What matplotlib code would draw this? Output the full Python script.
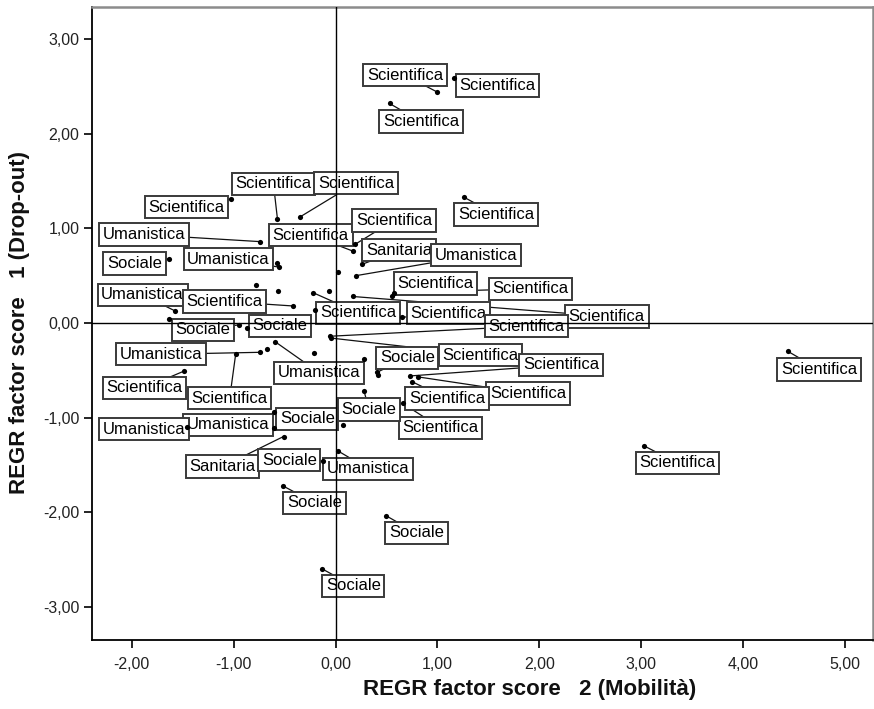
import matplotlib
matplotlib.use("Agg")
import matplotlib.pyplot as plt
from matplotlib.ticker import FuncFormatter

# ── DATA ────────────────────────────────────────────────────
# REGR factor score 2 (Mobilità) / 1 (Drop-out), area of each course
mobilita = [1.16, 1.00, 0.53, 1.26, -1.03, -0.57, -0.35, -0.74, -1.63, -0.55,
            -0.57, 0.17, 0.19, 0.26, 0.20, 0.02, -0.78, -0.56, -0.22, -0.20,
            -0.06, 0.17, 0.55, 0.57, 0.65, -0.05, -0.04, -0.95, -0.87, -1.58,
            -1.63, -0.42, -0.74, -0.67, -0.98, -1.49, -0.59, -0.21, 0.28, 0.41,
            0.42, 0.73, 0.81, 0.75, 0.66, 0.28, 0.07, -0.60, -0.60, -1.46,
            -0.51, -0.12, 0.02, -0.52, 0.50, -0.13, 4.44, 3.03]
dropout = [2.59, 2.44, 2.32, 1.33, 1.31, 1.10, 1.12, 0.86, 0.68, 0.59,
           0.63, 0.76, 0.83, 0.62, 0.50, 0.54, 0.40, 0.34, 0.32, 0.14,
           0.34, 0.28, 0.28, 0.32, 0.06, -0.14, -0.16, -0.02, -0.05, 0.13,
           0.04, 0.18, -0.31, -0.28, -0.33, -0.51, -0.20, -0.32, -0.38, -0.52,
           -0.55, -0.56, -0.57, -0.62, -0.85, -0.72, -1.08, -0.94, -1.11, -1.10,
           -1.20, -1.46, -1.35, -1.72, -2.04, -2.60, -0.30, -1.30]
area = ["Scientifica", "Scientifica", "Scientifica", "Scientifica", "Scientifica",
        "Scientifica", "Scientifica", "Umanistica", "Sociale", "Umanistica",
        "", "Scientifica", "Scientifica", "Sanitaria", "Umanistica",
        "", "", "", "Scientifica", "",
        "", "Scientifica", "Scientifica", "Scientifica", "Scientifica",
        "Scientifica", "Scientifica", "Sociale", "Sociale", "Umanistica",
        "", "Scientifica", "Umanistica", "", "Scientifica",
        "Scientifica", "Umanistica", "", "", "Sociale",
        "", "Scientifica", "Scientifica", "Scientifica", "Scientifica",
        "Sociale", "", "Sociale", "Umanistica", "Umanistica",
        "Sanitaria", "Sociale", "Umanistica", "Sociale", "Sociale",
        "Sociale", "Scientifica", "Scientifica"]

# ── LAYOUT: label offsets from each point (pixels, up = +) ──
label_dx = [44, -32.5, 31.5, 32, -44, -4, 56, -116, -35, -51,
            0, -42, 39, 37, 120, 0, 0, 0, 45, 0,
            0, 254, 44, 137, 47, 196, 149, -36, 33, -32,
            0, -68, -99, 0, -6, -39, 44, 0, 0, 30,
            0, 151, 110, 35, 38, 5, 0, 33, -46, -43,
            -61, -34, 30.5, 32, 30, 31, 31, 33]
label_dy = [-7.5, 17, -18, -17.5, -8, 35, 34, 7, -5, 8,
            0, 16, 24, 14, 20.5, 0, 0, 0, -20, 0,
            0, -20, 13, 4, 4, 10, -17, -5, 2, 16,
            0, 4.5, -2, 0, -44, -16.5, -31, 0, 0, 14.5,
            0, 11, -16.5, -17, -24.5, -18.5, 0, -7, 3, -2,
            -30, 1, -18, -17, -17, -17, -18, -17]

X_TICKS = [-2, -1, 0, 1, 2, 3, 4, 5]
Y_TICKS = [-3, -2, -1, 0, 1, 2, 3]

# ── FIGURE ──────────────────────────────────────────────────
plt.rcParams["font.family"] = ["Liberation Sans", "DejaVu Sans"]
fig = plt.figure(figsize=(8.74, 7.09), dpi=100)
W, H = 874, 709
ax = fig.add_axes([92 / W, (H - 640) / H, (873 - 92) / W, (640 - 7) / H])
ax.set_xlim(-2.390, 5.275)
ax.set_ylim(-3.351, 3.340)

comma = FuncFormatter(lambda v, _: f"{v:.2f}".replace(".", ","))
ax.set_xticks(X_TICKS)
ax.set_yticks(Y_TICKS)
ax.xaxis.set_major_formatter(comma)
ax.yaxis.set_major_formatter(comma)
ax.tick_params(direction="out", length=6, width=1.2, labelsize=11.5,
               colors="black", labelcolor="#222222")
ax.tick_params(axis="x", pad=6)
ax.tick_params(axis="y", pad=3)

for side in ("left", "bottom"):
    ax.spines[side].set_linewidth(1.3)
    ax.spines[side].set_color("black")
for side in ("top", "right"):
    ax.spines[side].set_linewidth(1.8)
    ax.spines[side].set_color("#8c8c8c")

# reference lines drawn above the label boxes, like SPSS
ax.axhline(0, color="black", lw=1, zorder=4)
ax.axvline(0, color="black", lw=1, zorder=4)

# ── LABELS + LEADERS ────────────────────────────────────────
to_px = ax.transData
to_data = ax.transData.inverted()
for x, y, lab, dx, dy in zip(mobilita, dropout, area, label_dx, label_dy):
    if not lab:
        continue
    px, py = to_px.transform((x, y))
    lx, ly = to_data.transform((px + dx, py + dy))
    ax.plot([x, lx], [y, ly], color="#111111", lw=0.9, zorder=2)
    ax.text(lx, ly, lab, ha="center", va="center", fontsize=12, zorder=3,
            bbox=dict(boxstyle="square,pad=0.22", facecolor="white",
                      edgecolor="#3a3a3a", linewidth=1.4))

ax.scatter(mobilita, dropout, s=14, color="black", zorder=5, linewidths=0)

# ── AXIS TITLES ─────────────────────────────────────────────
fig.text(530 / W, 1 - 690 / H, "REGR factor score   2 (Mobilità)",
         ha="center", va="center", fontsize=16, fontweight="bold",
         color="#111111")
fig.text(20 / W, 1 - 322 / H, "REGR factor score   1 (Drop-out)",
         ha="center", va="center", fontsize=16, fontweight="bold",
         color="#111111", rotation=90)

fig.savefig("out.png", dpi=100)
